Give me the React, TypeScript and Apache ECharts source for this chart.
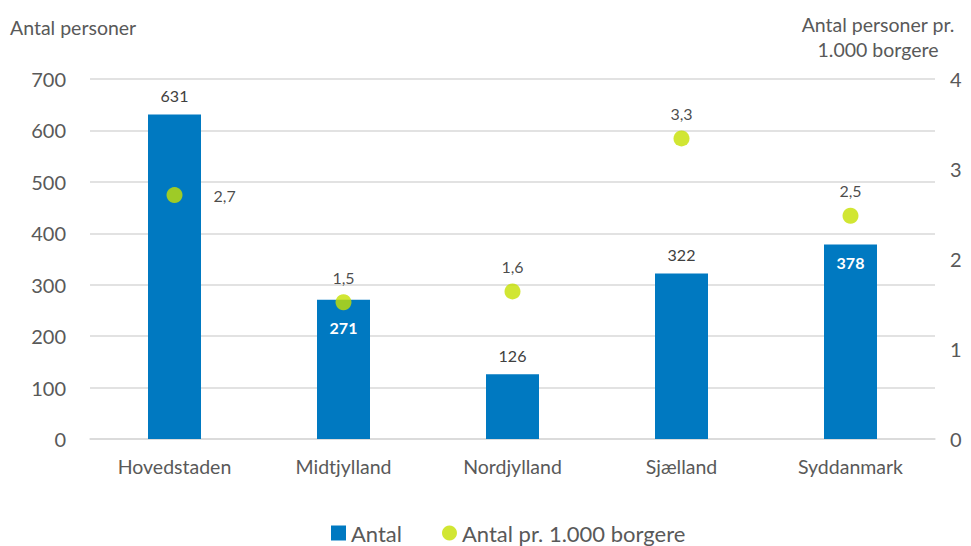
import React, { useEffect, useRef } from "react";
import * as echarts from "echarts";

const categories = ["Hovedstaden", "Midtjylland", "Nordjylland", "Sjælland", "Syddanmark"];
const antal = [631, 271, 126, 322, 378];
const perThousand = [2.71, 1.52, 1.64, 3.34, 2.48];
const insideBars = [false, true, false, false, true];
const insideDistance = [0, 20, 0, 0, 10];
const dotLabelPos = ["right", "top", "top", "top", "top"];

const FONT = "Lato, 'Open Sans', sans-serif";

export default function App() {
  const ref = useRef<HTMLDivElement>(null);
  useEffect(() => {
    if (!ref.current) return;
    const chart = echarts.init(ref.current, null, { renderer: "svg" });
    chart.setOption({
      animation: false,
      textStyle: { fontFamily: FONT },
      grid: { left: 90, right: 36, top: 79, bottom: 107 },
      legend: {
        top: 517,
        left: 326,
        itemGap: 40,
        itemWidth: 15,
        itemHeight: 15,
        textStyle: { fontSize: 22, color: "#595959", fontFamily: FONT },
        data: [
          { name: "Antal", icon: "rect" },
          { name: "Antal pr. 1.000 borgere", icon: "circle" },
        ],
      },
      graphic: [
        {
          type: "text",
          left: 10,
          top: 17,
          style: { text: "Antal personer", fontSize: 19.5, fill: "#595959", fontFamily: FONT },
        },
        {
          type: "text",
          x: 878,
          y: 12,
          style: {
            text: "Antal personer pr.\n1.000 borgere",
            fontSize: 19.5,
            lineHeight: 25,
            align: "center",
            verticalAlign: "top",
            fill: "#595959",
            fontFamily: FONT,
          },
        },
      ],
      xAxis: {
        type: "category",
        data: categories,
        axisTick: { show: false },
        axisLine: { lineStyle: { color: "#d9d9d9", width: 1.5 } },
        axisLabel: { fontSize: 19.5, color: "#595959", margin: 17, fontFamily: FONT },
      },
      yAxis: [
        {
          type: "value",
          min: 0,
          max: 700,
          interval: 100,
          axisLabel: { fontSize: 20, color: "#595959", margin: 24, fontFamily: FONT },
          splitLine: { lineStyle: { color: "#d9d9d9", width: 1.5 } },
          axisLine: { show: false },
          axisTick: { show: false },
        },
        {
          type: "value",
          min: 0,
          max: 4,
          interval: 1,
          axisLabel: { fontSize: 20, color: "#595959", margin: 15, fontFamily: FONT },
          splitLine: { show: false },
          axisLine: { show: false },
          axisTick: { show: false },
        },
      ],
      series: [
        {
          name: "Antal",
          type: "bar",
          barWidth: 53,
          itemStyle: { color: "#0079C1" },
          data: antal.map((v, i) => ({
            value: v,
            label: insideBars[i]
              ? { show: true, position: "insideTop", distance: insideDistance[i], color: "#ffffff", fontWeight: "bold", fontSize: 16, fontFamily: FONT }
              : { show: true, position: "top", distance: 11, color: "#404040", fontSize: 16, fontFamily: FONT },
          })),
        },
        {
          name: "Antal pr. 1.000 borgere",
          type: "scatter",
          yAxisIndex: 1,
          symbol: "circle",
          symbolSize: 16,
          itemStyle: { color: "#C5E000" },
          data: perThousand.map((v, i) => ({
            value: v,
            label: {
              show: true,
              position: dotLabelPos[i],
              distance: dotLabelPos[i] === "right" ? 31 : 9,
              color: "#1a1a1a",
              fontSize: 16,
              fontFamily: FONT,
              formatter: (p: any) => p.value.toFixed(1).replace(".", ","),
            },
          })),
        },
      ],
    });
    return () => chart.dispose();
  }, []);
  return (
    <div
      ref={ref}
      style={{ position: "absolute", left: 0, top: 0, width: 971, height: 546 }}
    />
  );
}
